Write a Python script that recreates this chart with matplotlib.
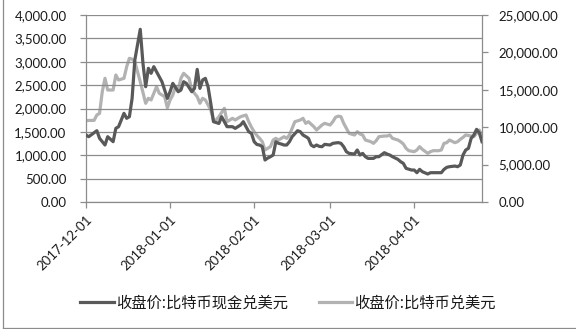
import matplotlib
matplotlib.use("Agg")
import matplotlib.pyplot as plt
import matplotlib.dates as mdates
from matplotlib.lines import Line2D
import numpy as np
import pandas as pd

# ---- data ----
start = pd.Timestamp("2017-12-01")

bch_days = [0, 1, 4, 5, 7, 8, 10, 11, 12, 14, 15, 16, 17, 18, 20, 21, 22, 23, 24, 25,
            27, 28, 30, 31, 32, 34, 35, 36, 37, 39, 40, 41, 42, 43, 44, 45, 46, 47, 49, 50,
            52, 54, 55, 57, 58, 60, 61, 62, 63, 64, 65, 66, 67, 68, 69, 70, 71, 72, 73, 74,
            75, 76, 78, 79, 80, 81, 82, 83, 84, 85, 86, 87, 88, 90, 91, 93, 94, 95, 96, 97,
            99, 100, 101, 102, 103, 104, 106, 107, 108, 110, 111, 112, 113, 115, 116, 117, 118, 120, 121, 122,
            123, 124, 126, 127, 128, 130, 131, 132, 133, 134, 136, 137, 138, 139, 140, 141, 142, 143, 144, 145,
            146]
bch_usd = [1433, 1397, 1525, 1362, 1219, 1397, 1290, 1576, 1610, 1897, 1790, 1825, 2217, 3037, 3694, 2966, 2466, 2860, 2753, 2895,
           2680, 2573, 2217, 2359, 2538, 2359, 2395, 2573, 2538, 2359, 2430, 2837, 2430, 2610, 2645, 2466, 2110, 1718, 1680, 1825,
           1611, 1611, 1575, 1647, 1718, 1504, 1468, 1290, 1230, 1219, 1183, 898, 940, 969, 1005, 1290, 1255, 1240, 1219, 1219,
           1290, 1397, 1525, 1504, 1433, 1400, 1362, 1219, 1183, 1219, 1190, 1183, 1233, 1219, 1255, 1270, 1255, 1183, 1076, 1040,
           1026, 1112, 1005, 1040, 969, 933, 933, 969, 969, 1055, 1026, 1005, 969, 912, 862, 826, 720, 684, 684, 627,
           698, 648, 599, 627, 627, 627, 627, 698, 741, 755, 769, 755, 791, 1005, 1112, 1148, 1362, 1433, 1554, 1480,
           1290]

btc_days = [0, 1, 3, 4, 5, 6, 7, 8, 10, 11, 12, 14, 15, 16, 17, 18, 19, 20, 22, 23,
            24, 26, 27, 29, 30, 31, 32, 33, 34, 35, 36, 38, 39, 40, 41, 42, 43, 44, 46, 47,
            48, 49, 51, 52, 54, 55, 56, 57, 59, 60, 61, 62, 63, 64, 65, 66, 68, 69, 70, 71,
            73, 74, 75, 76, 77, 79, 80, 81, 82, 84, 85, 86, 87, 88, 90, 91, 92, 93, 94, 95,
            96, 97, 99, 100, 101, 102, 103, 105, 106, 107, 108, 110, 111, 112, 113, 115, 116, 117, 118, 119,
            121, 122, 123, 124, 126, 127, 128, 130, 131, 132, 133, 134, 136, 137, 138, 139, 140, 142, 143, 144,
            145, 146]
btc_usd = [10870, 10900, 10915, 11631, 11853, 14750, 16537, 14973, 14973, 16979, 16310, 16537, 18093, 19207, 19100, 18760, 17420, 16083, 13195, 13864,
           13640, 15414, 14532, 14086, 12600, 13640, 14305, 15414, 14973, 16537, 17206, 16537, 14973, 14532, 14086, 13195, 13864, 13640, 12300, 10963,
           10963, 11404, 12526, 10735, 11190, 10963, 11190, 11404, 11631, 10735, 10000, 9398, 8900, 8510, 8064, 6952, 7397, 8289, 8510, 8289,
           8730, 8510, 8957, 9853, 10735, 10963, 11190, 10517, 10735, 10072, 9626, 9960, 10294, 10517, 10294, 10735, 11324, 11480, 11404, 10517,
           9853, 9180, 8957, 9398, 9090, 8957, 8289, 8064, 7842, 8200, 8730, 8820, 8820, 8957, 8510, 8289, 8064, 7754, 7174, 6860,
           6730, 6952, 7397, 7040, 6507, 6730, 6860, 6860, 6952, 7842, 7930, 8289, 7930, 8064, 8380, 8640, 8957, 8820, 8730, 9180,
           9626, 8820]

x_tick_labels = ["2017-12-01", "2018-01-01", "2018-02-01", "2018-03-01", "2018-04-01"]
left_ticks = [0, 500, 1000, 1500, 2000, 2500, 3000, 3500, 4000]
right_ticks = [0, 5000, 10000, 15000, 20000, 25000]
series_names = ["收盘价:比特币现金兑美元", "收盘价:比特币兑美元"]

bch_dates = start + pd.to_timedelta(bch_days, unit="D")
btc_dates = start + pd.to_timedelta(btc_days, unit="D")
end_date = start + pd.Timedelta(days=146)

# ---- style ----
DARK = "#595959"
LIGHT = "#b2b2b2"
GRID = "#8c8c8c"
TXT = "#1a1a1a"
num_font = "Lato"
cjk = ["Noto Sans CJK SC", "DejaVu Sans"]

W, H = 576, 329
fig = plt.figure(figsize=(W / 100, H / 100), dpi=100)
ax = fig.add_axes([86 / W, 1 - 202 / H, (482 - 86) / W, (202 - 15) / H])
ax2 = ax.twinx()

ax.set_zorder(ax2.get_zorder() + 1)
ax.patch.set_visible(False)

ax2.plot(btc_dates, btc_usd, color=LIGHT, lw=2.3, solid_joinstyle="round", zorder=2)
ax.plot(bch_dates, bch_usd, color=DARK, lw=2.3, solid_joinstyle="round", zorder=3)

ax.set_xlim(start, end_date)
ax.set_ylim(0, 4000)
ax2.set_ylim(0, 25000)

ax.set_yticks(left_ticks)
ax.set_yticklabels([f"{v:,.2f}" for v in left_ticks], fontfamily=num_font, fontsize=9.5, color=TXT)
ax2.set_yticks(right_ticks)
ax2.set_yticklabels([f"{v:,.2f}" for v in right_ticks], fontfamily=num_font, fontsize=9.5, color=TXT)

xt = [pd.Timestamp(s) for s in x_tick_labels]
ax.set_xticks(xt)
ax.set_xticklabels(x_tick_labels, rotation=45, ha="right", rotation_mode="anchor",
                   fontfamily=num_font, fontsize=9.5, color=TXT)

ax.yaxis.grid(True, color=GRID, lw=0.9)
ax.set_axisbelow(True)

for a in (ax, ax2):
    for s in a.spines.values():
        s.set_visible(False)
ax.spines["left"].set_visible(True)
ax.spines["bottom"].set_visible(True)
ax2.spines["right"].set_visible(True)
for s in (ax.spines["left"], ax.spines["bottom"], ax2.spines["right"]):
    s.set_color(GRID)
    s.set_linewidth(0.9)

ax.tick_params(axis="y", direction="out", length=4, width=0.9, color=GRID, pad=10)
ax.tick_params(axis="x", direction="out", length=4, width=0.9, color=GRID, pad=4)
ax2.tick_params(axis="y", direction="out", length=4, width=0.9, color=GRID, pad=8)

handles = [Line2D([], [], color=DARK, lw=2.3), Line2D([], [], color=LIGHT, lw=2.3)]
leg = fig.legend(handles, series_names, loc="center", bbox_to_anchor=(0.5, 1 - 303 / H),
                 ncol=2, frameon=False, handlelength=2.2, handletextpad=0.15,
                 columnspacing=2.0, prop={"family": cjk, "size": 11})
for t in leg.get_texts():
    t.set_color(TXT)

# outer chart frame (left and bottom edges visible in the reference)
fig.add_artist(Line2D([2.5 / W, 2.5 / W], [1 - 328 / H, 1.0], transform=fig.transFigure, color=GRID, lw=0.9))
fig.add_artist(Line2D([2.5 / W, 1.0], [1 - 327.5 / H, 1 - 327.5 / H], transform=fig.transFigure, color=GRID, lw=0.9))

fig.savefig("out.png", dpi=100, facecolor="white")
